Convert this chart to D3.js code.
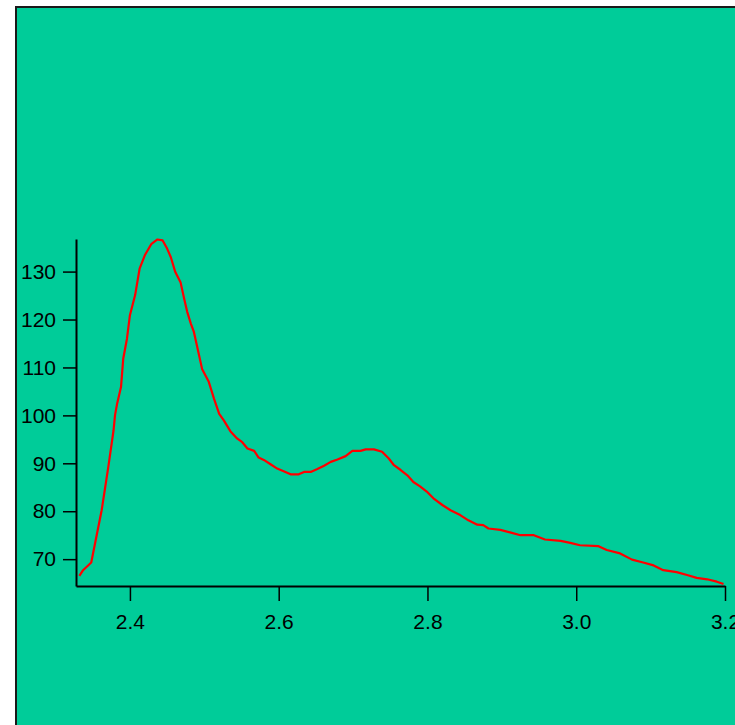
<!DOCTYPE html>
<html>
<head>
<meta charset="utf-8">
<script src="https://cdn.jsdelivr.net/npm/d3@7"></script>
<style>
  html, body { margin: 0; padding: 0; background: #fff; overflow: hidden; }
  .axis text { font-family: "Liberation Sans", sans-serif; font-size: 21px; fill: #000; }
  .axis .domain { stroke: #000; stroke-width: 2; }
  .axis .tick line { stroke: #000; stroke-width: 1.5; }
</style>
</head>
<body>
<svg id="chart" width="735" height="725"></svg>
<script>
// curve (x, y)
const xs = [2.332, 2.337, 2.348, 2.362, 2.371, 2.378, 2.380, 2.383, 2.388, 2.391,
  2.396, 2.400, 2.407, 2.413, 2.420, 2.429, 2.437, 2.444, 2.450, 2.455,
  2.461, 2.468, 2.473, 2.477, 2.482, 2.486, 2.491, 2.497, 2.506, 2.513,
  2.520, 2.526, 2.535, 2.544, 2.551, 2.558, 2.567, 2.573, 2.580, 2.589,
  2.598, 2.609, 2.616, 2.627, 2.634, 2.643, 2.652, 2.661, 2.670, 2.679,
  2.690, 2.699, 2.710, 2.717, 2.728, 2.739, 2.748, 2.755, 2.764, 2.773,
  2.781, 2.790, 2.799, 2.808, 2.820, 2.831, 2.844, 2.855, 2.867, 2.875,
  2.882, 2.898, 2.911, 2.925, 2.943, 2.958, 2.979, 2.992, 3.005, 3.030,
  3.041, 3.059, 3.075, 3.090, 3.104, 3.117, 3.135, 3.149, 3.162, 3.176,
  3.189, 3.198];
const ys = [66.5, 67.7, 69.3, 80.2, 89.3, 96.9, 100.1, 102.6, 105.9, 111.8,
  116.0, 120.9, 125.1, 130.6, 133.4, 135.8, 136.7, 136.5, 134.8, 133.0,
  129.9, 127.8, 124.3, 121.6, 119.1, 117.4, 113.9, 109.7, 107.0, 103.5,
  100.3, 99.0, 96.7, 95.2, 94.4, 93.1, 92.6, 91.2, 90.7, 89.8,
  88.9, 88.2, 87.7, 87.7, 88.2, 88.2, 88.8, 89.5, 90.3, 90.8,
  91.5, 92.6, 92.6, 92.9, 92.9, 92.4, 91.0, 89.6, 88.6, 87.5,
  86.1, 85.2, 84.1, 82.7, 81.3, 80.2, 79.2, 78.1, 77.2, 77.1,
  76.4, 76.1, 75.6, 75.0, 75.0, 74.1, 73.8, 73.4, 72.9, 72.7,
  71.9, 71.2, 69.9, 69.3, 68.7, 67.7, 67.3, 66.7, 66.1, 65.8,
  65.3, 64.8];

const xTicks = [2.4, 2.6, 2.8, 3.0, 3.2];
const yTicks = [70, 80, 90, 100, 110, 120, 130];
const xDomain = [2.3275, 3.2];
const yDomain = [64.4, 136.8];

const data = xs.map((x, i) => ({ x: x, y: ys[i] }));

const svg = d3.select("#chart");

// panel background with frame
svg.append("rect")
  .attr("x", 16).attr("y", 7)
  .attr("width", 760).attr("height", 760)
  .attr("fill", "#00cc99")
  .attr("stroke", "#1a1a1a")
  .attr("stroke-width", 2);

const xScale = d3.scaleLinear().domain(xDomain).range([76, 725]);
const yScale = d3.scaleLinear().domain(yDomain).range([586, 239]);

const xAxis = d3.axisBottom(xScale)
  .tickValues(xTicks)
  .tickFormat(d3.format(".1f"))
  .tickSize(15).tickSizeOuter(0).tickPadding(13);
const yAxis = d3.axisLeft(yScale)
  .tickValues(yTicks)
  .tickSize(13).tickSizeOuter(0).tickPadding(7);

svg.append("g").attr("class", "axis")
  .attr("transform", "translate(0,586)")
  .call(xAxis);
svg.append("g").attr("class", "axis")
  .attr("transform", "translate(76,0)")
  .call(yAxis);

const line = d3.line().x(d => xScale(d.x)).y(d => yScale(d.y));

svg.append("path")
  .datum(data)
  .attr("d", line)
  .attr("fill", "none")
  .attr("stroke", "#ff0000")
  .attr("stroke-width", 2.2)
  .attr("stroke-linejoin", "round");
</script>
</body>
</html>
